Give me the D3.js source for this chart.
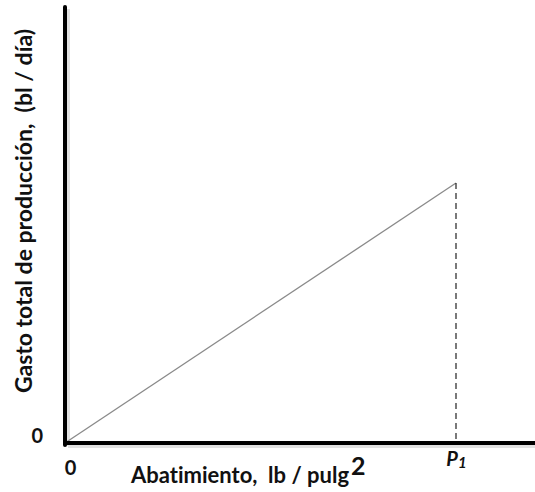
<!DOCTYPE html>
<html><head><meta charset="utf-8">
<script src="https://cdn.jsdelivr.net/npm/d3@7"></script>
<style>body{margin:0;background:#fff}svg{display:block}text{font-family:Lato,"Open Sans",sans-serif;font-weight:bold;fill:#111;white-space:pre;font-variant-ligatures:none;font-feature-settings:"liga" 0}</style>
</head><body>
<script>
const xValues = [0, 1];        // 0 and P1
const yValues = [0, 1];        // 0 and the rate reached at P1
const xTickLabels = ["0", "P1"];
const yTickLabels = ["0"];
const xTitle = "Abatimiento,  lb / pulg";
const yTitle = "Gasto total de producción,  (bl / día)";

const W = 535, H = 492;
const svg = d3.select("body").append("svg").attr("width", W).attr("height", H);
const x0 = 65, y0 = 443;
const x = d3.scaleLinear().domain([0, 1]).range([x0, 456]);
const y = d3.scaleLinear().domain([0, 1]).range([y0, 183]);

// shadows
svg.append("line").attr("x1", x0 + 3).attr("x2", x0 + 3).attr("y1", 9).attr("y2", y0 + 3).attr("stroke", "#e2e2e2").attr("stroke-width", 4);
svg.append("line").attr("x1", x0 + 3).attr("x2", W).attr("y1", y0 + 3).attr("y2", y0 + 3).attr("stroke", "#e2e2e2").attr("stroke-width", 4);

// data line
svg.append("path")
  .datum(xValues.map((v, i) => [v, yValues[i]]))
  .attr("d", d3.line().x(d => x(d[0])).y(d => y(d[1])))
  .attr("fill", "none").attr("stroke", "#8a8a8a").attr("stroke-width", 1.3);

// dashed drop line
svg.append("line")
  .attr("x1", x(xValues[1])).attr("x2", x(xValues[1]))
  .attr("y1", y(yValues[1])).attr("y2", y(0))
  .attr("stroke", "#222").attr("stroke-width", 1.2).attr("stroke-dasharray", "6,4");

// axes
svg.append("line").attr("x1", x0).attr("x2", x0).attr("y1", 7).attr("y2", y0 + 2).attr("stroke", "#000").attr("stroke-width", 4).attr("stroke-linecap", "round");
svg.append("line").attr("x1", x0 - 2).attr("x2", W).attr("y1", y0).attr("y2", y0).attr("stroke", "#000").attr("stroke-width", 4);

const xAxis = svg.append("g").attr("transform", `translate(0,${y0})`)
  .call(d3.axisBottom(x).tickValues(xValues).tickSize(0).tickFormat((d, i) => xTickLabels[i]));
xAxis.select(".domain").remove();
xAxis.selectAll("text").attr("font-size", 20).attr("font-family", "Lato").attr("font-weight", "bold").attr("fill", "#111")
  .attr("dy", null).attr("y", 0)
  .each(function (d, i) {
    const t = d3.select(this);
    if (i === 0) { t.attr("x", 5).attr("y", 32); }
    else {
      t.text(null).attr("y", 23).attr("font-style", "italic").attr("x", 0);
      t.append("tspan").text("P");
      t.append("tspan").text("1").attr("font-size", 15).attr("dy", 2);
    }
  });

const yAxis = svg.append("g").attr("transform", `translate(${x0},0)`)
  .call(d3.axisLeft(y).tickValues([0]).tickSize(0).tickFormat((d, i) => yTickLabels[i]));
yAxis.select(".domain").remove();
yAxis.selectAll("text").attr("font-size", 20).attr("font-family", "Lato").attr("font-weight", "bold").attr("fill", "#111")
  .attr("dy", null).attr("y", -1).attr("x", -22);

// titles
const xt = svg.append("text").attr("x", 131).attr("y", 483).attr("font-size", 22);
xt.append("tspan").text(xTitle);
xt.append("tspan").text("2").attr("font-size", 25).attr("dy", -8).attr("dx", 2);

svg.append("text").attr("transform", "translate(32,211) rotate(-90)")
  .attr("text-anchor", "middle").attr("font-size", 23).text(yTitle);
</script>
</body></html>
